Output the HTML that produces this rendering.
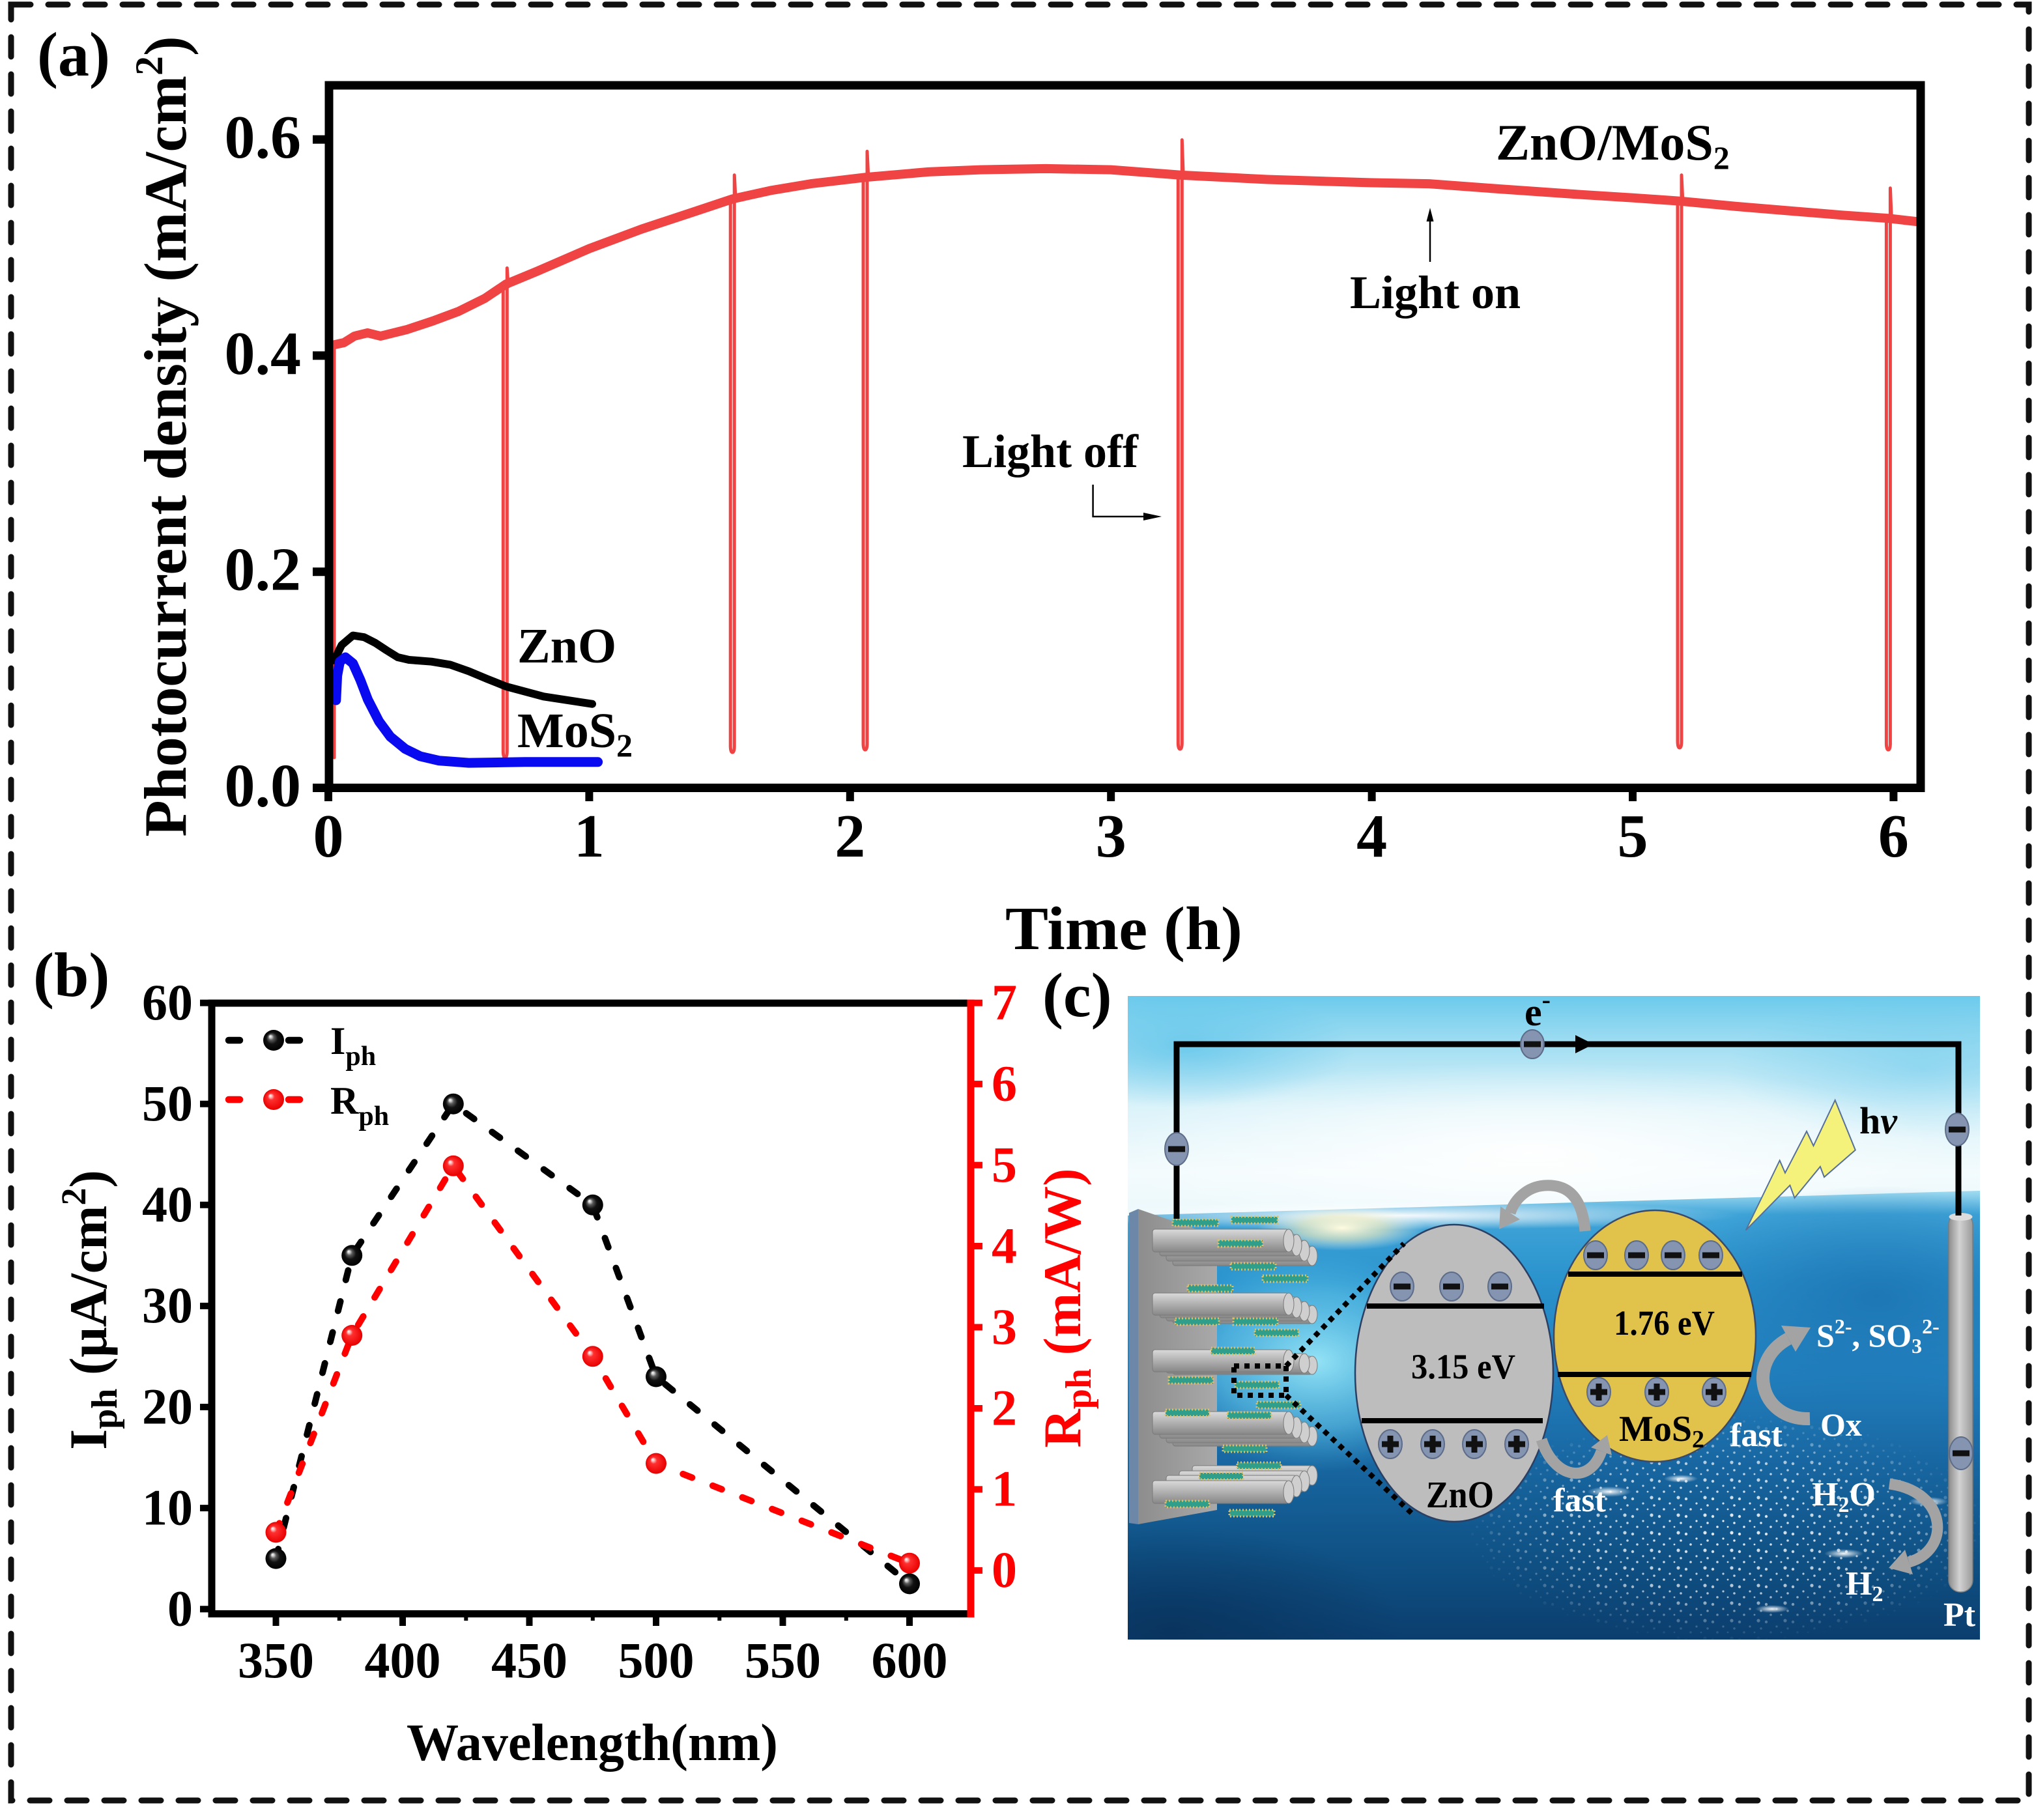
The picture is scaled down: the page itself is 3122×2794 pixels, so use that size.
<!DOCTYPE html>
<html><head><meta charset="utf-8"><style>
html,body{margin:0;padding:0;background:#fff;}
body{width:3122px;height:2794px;overflow:hidden;}
svg{display:block;}
</style></head><body>
<svg width="3122" height="2794" viewBox="0 0 3122 2794" xmlns="http://www.w3.org/2000/svg" font-family="'Liberation Serif','Times New Roman',serif" font-weight="bold">
<defs>
  <radialGradient id="mkB" cx="0.5" cy="0.5" r="0.5" fx="0.33" fy="0.3">
    <stop offset="0" stop-color="#ffffff"/><stop offset="0.12" stop-color="#cfcfcf"/><stop offset="0.28" stop-color="#5a5a5a"/><stop offset="0.55" stop-color="#111"/><stop offset="1" stop-color="#000"/>
  </radialGradient>
  <radialGradient id="mkR" cx="0.5" cy="0.5" r="0.5" fx="0.33" fy="0.3">
    <stop offset="0" stop-color="#ffffff"/><stop offset="0.14" stop-color="#ffb8b8"/><stop offset="0.32" stop-color="#ff3030"/><stop offset="1" stop-color="#e80000"/>
  </radialGradient>
  <linearGradient id="skyG" x1="0" y1="1529" x2="0" y2="1875" gradientUnits="userSpaceOnUse">
    <stop offset="0" stop-color="#6ccaec"/><stop offset="0.22" stop-color="#a2def2"/><stop offset="0.5" stop-color="#dcf3fa"/><stop offset="0.78" stop-color="#f3fbfd"/><stop offset="1" stop-color="#eaf8fc"/>
  </linearGradient>
  <linearGradient id="waterG" x1="0" y1="1830" x2="0" y2="2517" gradientUnits="userSpaceOnUse">
    <stop offset="0" stop-color="#9cd9f0"/><stop offset="0.05" stop-color="#3fa4d8"/><stop offset="0.2" stop-color="#2a92cc"/><stop offset="0.4" stop-color="#2280be"/><stop offset="0.6" stop-color="#1867a2"/><stop offset="0.8" stop-color="#105387"/><stop offset="1" stop-color="#0b3e6e"/>
  </linearGradient>
  <radialGradient id="glowC" cx="0.5" cy="0.5" r="0.5">
    <stop offset="0" stop-color="#9ae8f8" stop-opacity="0.95"/><stop offset="0.6" stop-color="#6fd3f2" stop-opacity="0.5"/><stop offset="1" stop-color="#4fc0ea" stop-opacity="0"/>
  </radialGradient>
  <radialGradient id="glowW" cx="0.5" cy="0.5" r="0.5">
    <stop offset="0" stop-color="#ffffff" stop-opacity="0.95"/><stop offset="1" stop-color="#ffffff" stop-opacity="0"/>
  </radialGradient>
  <radialGradient id="glowCy" cx="0.5" cy="0.5" r="0.5">
    <stop offset="0" stop-color="#4cbde8" stop-opacity="0.6"/><stop offset="1" stop-color="#4cbde8" stop-opacity="0"/>
  </radialGradient>
  <radialGradient id="glowY" cx="0.5" cy="0.5" r="0.5">
    <stop offset="0" stop-color="#fffbe0" stop-opacity="1"/><stop offset="0.5" stop-color="#fff3c0" stop-opacity="0.6"/><stop offset="1" stop-color="#ffffff" stop-opacity="0"/>
  </radialGradient>
  <radialGradient id="darkC" cx="0.5" cy="0.5" r="0.5">
    <stop offset="0" stop-color="#082f58" stop-opacity="0.7"/><stop offset="1" stop-color="#082f58" stop-opacity="0"/>
  </radialGradient>
  <radialGradient id="blueC" cx="0.5" cy="0.5" r="0.5">
    <stop offset="0" stop-color="#1a6fae" stop-opacity="0.75"/><stop offset="1" stop-color="#1a6fae" stop-opacity="0"/>
  </radialGradient>
  <radialGradient id="spkMaskG" cx="0.5" cy="0.5" r="0.5">
    <stop offset="0" stop-color="#fff"/><stop offset="0.6" stop-color="#bbb"/><stop offset="1" stop-color="#000"/>
  </radialGradient>
  <mask id="spkMask"><rect x="2250" y="2170" width="800" height="350" fill="url(#spkMaskG)"/></mask>
  <pattern id="spk" width="41" height="27" patternUnits="userSpaceOnUse">
    <circle cx="5" cy="6" r="2.2" fill="#fff"/><circle cx="21" cy="13" r="1.6" fill="#fff"/><circle cx="34" cy="4" r="2.6" fill="#fff"/><circle cx="12" cy="22" r="1.8" fill="#fff"/><circle cx="28" cy="22" r="1.4" fill="#fff"/><circle cx="38" cy="16" r="1.8" fill="#fff"/>
  </pattern>
  <linearGradient id="rodG" x1="0" y1="0" x2="0" y2="1">
    <stop offset="0" stop-color="#dadada"/><stop offset="0.45" stop-color="#b4b4b4"/><stop offset="1" stop-color="#878787"/>
  </linearGradient>
  <linearGradient id="subG" x1="0" y1="0" x2="1" y2="0">
    <stop offset="0" stop-color="#8d8d8d"/><stop offset="1" stop-color="#a9a9a9"/>
  </linearGradient>
  <linearGradient id="ptG" x1="0" y1="0" x2="1" y2="0">
    <stop offset="0" stop-color="#8c8c8c"/><stop offset="0.45" stop-color="#d2d2d2"/><stop offset="1" stop-color="#9a9a9a"/>
  </linearGradient>
  <g id="el"><ellipse rx="18" ry="22" fill="#8595b1" stroke="#5c6c89" stroke-width="2"/><rect x="-13" y="-4.5" width="26" height="9" fill="#111"/></g>
  <g id="elw"><ellipse rx="18" ry="25" fill="#8595b1" stroke="#5c6c89" stroke-width="2"/><rect x="-13" y="-4.5" width="26" height="9" fill="#111"/></g>
  <g id="ho"><ellipse rx="18" ry="22" fill="#8595b1" stroke="#5c6c89" stroke-width="2"/><rect x="-13" y="-4.5" width="26" height="9" fill="#111"/><rect x="-4.5" y="-13" width="9" height="26" fill="#111"/></g>
  <clipPath id="cclip"><rect x="1731" y="1529" width="1308" height="988"/></clipPath>
</defs>

<!-- outer dashed border -->
<rect x="17" y="7" width="3097" height="2757" fill="none" stroke="#111" stroke-width="9" stroke-dasharray="30 27" stroke-linecap="round"/>

<!-- ===================== PANEL (a) ===================== -->
<text x="57" y="116" font-size="96">(a)</text>
<text transform="translate(285,670) rotate(-90)" text-anchor="middle" font-size="92">Photocurrent density (mA/cm<tspan font-size="60" dy="-36">2</tspan><tspan dy="36">)</tspan></text>

<g fill="none" stroke-linejoin="round" stroke-linecap="round">
  <polyline stroke="#f04343" stroke-width="14" points="512.8,529.3 528,526 544,516 564.1,511 584.1,516 624.1,506.1 664.2,492.8 704.2,477.9 744.2,458 776.3,436.4 824.3,416.5 904.4,381.7 984.5,351.8 1064.6,325.3 1124.6,305.3 1184.7,292.1 1244.7,282.1 1328.8,272.2 1424.9,263.9 1505,260.6 1605.1,258.9 1705.2,260.6 1813.3,268.9 1945.4,275.5 2105.6,280.5 2193.7,282.1 2305.8,290.4 2425.9,298.7 2506,303.7 2578.1,308.7 2666.2,317 2746.2,323.6 2826.3,330.2 2898.4,335.2 2942.4,340.2"/>
  <g stroke="#f04343" stroke-width="5">
    <path d="M513,1163 L513,530"/>
    <path d="M772.3,437 L772.3,1153 Q772.3,1163 775.3,1163 Q778.3,1163 778.3,1153 L778.3,411.5 L780.3,440"/>
    <path d="M1121.2,305 L1121.2,1145 Q1121.2,1155 1124.2,1155 Q1127.2,1155 1127.2,1145 L1127.2,268.8 L1129.2,308"/>
    <path d="M1325,272 L1325,1141 Q1325,1151 1328,1151 Q1331,1151 1331,1141 L1331,232.4 L1333,275"/>
    <path d="M1808.3,269 L1808.3,1140 Q1808.3,1150 1811.3,1150 Q1814.3,1150 1814.3,1140 L1814.3,214.8 L1816.3,272"/>
    <path d="M2575,309 L2575,1138 Q2575,1148 2578,1148 Q2581,1148 2581,1138 L2581,268.8 L2583,312"/>
    <path d="M2895.4,335 L2895.4,1141 Q2895.4,1151 2898.4,1151 Q2901.4,1151 2901.4,1141 L2901.4,288.8 L2903.4,338"/>
  </g>
  <polyline stroke="#000" stroke-width="12" points="513,1013.7 524.4,990.3 541.7,975.6 558.9,978.2 576.1,987 593.3,998.3 610.5,1009 627.8,1013 662.2,1015.7 690.9,1020.4 719.6,1030.5 748.3,1042.5 777,1053.9 834.4,1069.3 909,1080.7"/>
  <polyline stroke="#0a0af0" stroke-width="15" points="515.8,1075 517.6,1037.2 521.6,1015.7 530.2,1009 541.7,1018.4 553.1,1043.9 564.6,1074 581.8,1107.5 599.1,1130.9 622,1149.7 645,1161 673.7,1167.7 719.6,1171.1 805.7,1169.8 917.6,1169.8"/>
</g>

<rect x="505" y="131" width="2443" height="1078.5" fill="none" stroke="#000" stroke-width="13"/>
<g stroke="#000" stroke-width="13">
  <line x1="480" y1="1209.5" x2="505" y2="1209.5"/>
  <line x1="480" y1="877.7" x2="505" y2="877.7"/>
  <line x1="480" y1="545.9" x2="505" y2="545.9"/>
  <line x1="480" y1="214.1" x2="505" y2="214.1"/>
</g>
<g stroke="#000" stroke-width="12">
  <line x1="504" y1="1209" x2="504" y2="1230"/>
  <line x1="904.4" y1="1209" x2="904.4" y2="1230"/>
  <line x1="1304.8" y1="1209" x2="1304.8" y2="1230"/>
  <line x1="1705.2" y1="1209" x2="1705.2" y2="1230"/>
  <line x1="2105.6" y1="1209" x2="2105.6" y2="1230"/>
  <line x1="2506" y1="1209" x2="2506" y2="1230"/>
  <line x1="2906.4" y1="1209" x2="2906.4" y2="1230"/>
</g>
<g font-size="94" text-anchor="end">
  <text x="462" y="1237.5">0.0</text>
  <text x="462" y="905.7">0.2</text>
  <text x="462" y="573.9">0.4</text>
  <text x="462" y="242.1">0.6</text>
</g>
<g font-size="94" text-anchor="middle">
  <text x="504" y="1315">0</text>
  <text x="904.4" y="1315">1</text>
  <text x="1304.8" y="1315">2</text>
  <text x="1705.2" y="1315">3</text>
  <text x="2105.6" y="1315">4</text>
  <text x="2506" y="1315">5</text>
  <text x="2906.4" y="1315">6</text>
</g>
<text x="1725" y="1457" font-size="94" text-anchor="middle" textLength="364" lengthAdjust="spacingAndGlyphs">Time (h)</text>

<text x="794" y="1017" font-size="76">ZnO</text>
<text x="794" y="1147" font-size="76">MoS<tspan font-size="50" dy="14">2</tspan></text>
<text x="2296" y="245" font-size="78">ZnO/MoS<tspan font-size="50" dy="14">2</tspan></text>
<text x="2072" y="473" font-size="72">Light on</text>
<text x="1477" y="717" font-size="72">Light off</text>
<line x1="2195" y1="402" x2="2195" y2="336" stroke="#000" stroke-width="2.5"/>
<polygon points="2195,319 2189.5,340 2200.5,340" fill="#000"/>
<polyline points="1677.6,744 1677.6,793 1758,793" fill="none" stroke="#000" stroke-width="2.5"/>
<polygon points="1783,793 1755,787 1755,799" fill="#000"/>

<!-- ===================== PANEL (b) ===================== -->
<text x="51" y="1529" font-size="96">(b)</text>

<g fill="none" stroke-width="10" stroke-linecap="round" stroke-dasharray="15 34">
  <path stroke="#000" d="M423.5,2392.6 L540.2,1927.3 L695.8,1694.7 L909.8,1849.8 L1007,2113.5 L1396,2431.4"/>
  <path stroke="#ff0000" d="M423.5,2352.4 L540.2,2050 L695.8,1789.8 L909.8,2082.3 L1007,2246.6 L1396,2399.7"/>
</g>
<g>
  <circle cx="423.5" cy="2392.6" r="16" fill="url(#mkB)"/>
  <circle cx="540.2" cy="1927.3" r="16" fill="url(#mkB)"/>
  <circle cx="695.8" cy="1694.7" r="16" fill="url(#mkB)"/>
  <circle cx="909.8" cy="1849.8" r="16" fill="url(#mkB)"/>
  <circle cx="1007" cy="2113.5" r="16" fill="url(#mkB)"/>
  <circle cx="1396" cy="2431.4" r="16" fill="url(#mkB)"/>
  <circle cx="423.5" cy="2352.4" r="16" fill="url(#mkR)"/>
  <circle cx="540.2" cy="2050" r="16" fill="url(#mkR)"/>
  <circle cx="695.8" cy="1789.8" r="16" fill="url(#mkR)"/>
  <circle cx="909.8" cy="2082.3" r="16" fill="url(#mkR)"/>
  <circle cx="1007" cy="2246.6" r="16" fill="url(#mkR)"/>
  <circle cx="1396" cy="2399.7" r="16" fill="url(#mkR)"/>
</g>

<g stroke-width="10.5" stroke-linecap="round">
  <line x1="351" y1="1597" x2="368" y2="1597" stroke="#000"/>
  <line x1="443" y1="1597" x2="460" y2="1597" stroke="#000"/>
  <line x1="351" y1="1688" x2="368" y2="1688" stroke="#ff0000"/>
  <line x1="443" y1="1688" x2="460" y2="1688" stroke="#ff0000"/>
</g>
<circle cx="420" cy="1597" r="16" fill="url(#mkB)"/>
<circle cx="420" cy="1688" r="16" fill="url(#mkR)"/>
<text x="507" y="1618" font-size="60">I<tspan font-size="42" dy="17">ph</tspan></text>
<text x="507" y="1710" font-size="60">R<tspan font-size="42" dy="17">ph</tspan></text>

<g stroke="#000" stroke-width="11" fill="none">
  <line x1="319.5" y1="1540" x2="1490" y2="1540"/>
  <line x1="325" y1="1534.5" x2="325" y2="2483"/>
  <line x1="319.5" y1="2477.5" x2="1490" y2="2477.5"/>
</g>
<line x1="1490" y1="1534.5" x2="1490" y2="2483" stroke="#ff0000" stroke-width="11"/>
<g stroke="#000" stroke-width="10">
  <line x1="307" y1="2470.2" x2="325" y2="2470.2"/>
  <line x1="307" y1="2315.1" x2="325" y2="2315.1"/>
  <line x1="307" y1="2160" x2="325" y2="2160"/>
  <line x1="307" y1="2004.9" x2="325" y2="2004.9"/>
  <line x1="307" y1="1849.8" x2="325" y2="1849.8"/>
  <line x1="307" y1="1694.7" x2="325" y2="1694.7"/>
  <line x1="307" y1="1539.6" x2="325" y2="1539.6"/>
  <line x1="423.5" y1="2477" x2="423.5" y2="2496"/>
  <line x1="618" y1="2477" x2="618" y2="2496"/>
  <line x1="812.5" y1="2477" x2="812.5" y2="2496"/>
  <line x1="1007" y1="2477" x2="1007" y2="2496"/>
  <line x1="1201.5" y1="2477" x2="1201.5" y2="2496"/>
  <line x1="1396" y1="2477" x2="1396" y2="2496"/>
</g>
<g stroke="#000" stroke-width="6">
  <line x1="520.8" y1="2477" x2="520.8" y2="2488"/>
  <line x1="715.3" y1="2477" x2="715.3" y2="2488"/>
  <line x1="909.8" y1="2477" x2="909.8" y2="2488"/>
  <line x1="1104.3" y1="2477" x2="1104.3" y2="2488"/>
  <line x1="1298.8" y1="2477" x2="1298.8" y2="2488"/>
</g>
<g stroke="#ff0000" stroke-width="10">
  <line x1="1490" y1="2410.9" x2="1508" y2="2410.9"/>
  <line x1="1490" y1="2286.4" x2="1508" y2="2286.4"/>
  <line x1="1490" y1="2162" x2="1508" y2="2162"/>
  <line x1="1490" y1="2037.5" x2="1508" y2="2037.5"/>
  <line x1="1490" y1="1913" x2="1508" y2="1913"/>
  <line x1="1490" y1="1788.6" x2="1508" y2="1788.6"/>
  <line x1="1490" y1="1664.1" x2="1508" y2="1664.1"/>
  <line x1="1490" y1="1539.6" x2="1508" y2="1539.6"/>
</g>
<g font-size="78" text-anchor="end">
  <text x="296" y="2495.5">0</text>
  <text x="296" y="2340.4">10</text>
  <text x="296" y="2185.3">20</text>
  <text x="296" y="2030.2">30</text>
  <text x="296" y="1875.1">40</text>
  <text x="296" y="1720">50</text>
  <text x="296" y="1564.9">60</text>
</g>
<g font-size="78" fill="#ff0000">
  <text x="1522" y="2436.2">0</text>
  <text x="1522" y="2311.7">1</text>
  <text x="1522" y="2187.3">2</text>
  <text x="1522" y="2062.8">3</text>
  <text x="1522" y="1938.3">4</text>
  <text x="1522" y="1813.9">5</text>
  <text x="1522" y="1689.4">6</text>
  <text x="1522" y="1564.9">7</text>
</g>
<g font-size="78" text-anchor="middle">
  <text x="423.5" y="2575">350</text>
  <text x="618" y="2575">400</text>
  <text x="812.5" y="2575">450</text>
  <text x="1007" y="2575">500</text>
  <text x="1201.5" y="2575">550</text>
  <text x="1396" y="2575">600</text>
</g>
<text x="909" y="2702" font-size="80" text-anchor="middle" textLength="570" lengthAdjust="spacingAndGlyphs">Wavelength(nm)</text>
<text transform="translate(163,2011) rotate(-90)" text-anchor="middle" font-size="82">I<tspan font-size="56" dy="16">ph</tspan><tspan dy="-16"> (μA/cm</tspan><tspan font-size="54" dy="-32">2</tspan><tspan dy="32">)</tspan></text>
<text transform="translate(1658,2008) rotate(-90)" text-anchor="middle" font-size="82" fill="#ff0000">R<tspan font-size="56" dy="16">ph</tspan><tspan dy="-16"> (mA/W)</tspan></text>

<!-- ===================== PANEL (c) ===================== -->
<text x="1600" y="1560" font-size="96">(c)</text>
<g clip-path="url(#cclip)">
  <rect x="1731" y="1529" width="1308" height="988" fill="url(#skyG)"/>
  <ellipse cx="1820" cy="1610" rx="260" ry="90" fill="url(#glowCy)"/>
  <ellipse cx="2950" cy="1640" rx="300" ry="110" fill="url(#glowCy)" opacity="0.6"/>
  <ellipse cx="2350" cy="1770" rx="650" ry="140" fill="url(#glowW)"/>
  <polygon points="1731,1866 3039,1828 3039,2517 1731,2517" fill="url(#waterG)"/>
  <ellipse cx="2880" cy="1990" rx="330" ry="170" fill="url(#blueC)"/>
  <ellipse cx="2150" cy="1866" rx="520" ry="22" fill="url(#glowW)"/>
  <ellipse cx="2060" cy="1885" rx="130" ry="35" fill="url(#glowY)"/>
  <ellipse cx="2020" cy="2090" rx="250" ry="170" fill="url(#glowC)"/>
  <ellipse cx="1800" cy="2500" rx="350" ry="160" fill="url(#darkC)"/>
  <rect x="2250" y="2170" width="800" height="350" fill="url(#spk)" mask="url(#spkMask)" opacity="0.9"/>
  <ellipse cx="2470" cy="2290" rx="34" ry="8" fill="url(#glowW)"/>
  <ellipse cx="2830" cy="2385" rx="30" ry="7" fill="url(#glowW)"/>
  <ellipse cx="2960" cy="2305" rx="30" ry="7" fill="url(#glowW)"/>
  <ellipse cx="2580" cy="2270" rx="26" ry="6" fill="url(#glowW)"/>
  <ellipse cx="2720" cy="2470" rx="26" ry="6" fill="url(#glowW)"/>
</g>

<polygon points="1733,1862 1747,1856 1747,2340 1733,2338" fill="#6d87a8"/>
<polygon points="1747,1856 1868,1898 1868,2318 1747,2340" fill="url(#subG)"/>
<g stroke="#7a7a7a" stroke-width="1">
  <rect x="1800" y="1913" width="214" height="30" rx="4" fill="url(#rodG)"/><ellipse cx="2014" cy="1928" rx="8" ry="15" fill="#cfcfcf"/>
  <rect x="1790" y="1904" width="212" height="32" rx="4" fill="url(#rodG)"/><ellipse cx="2002" cy="1920" rx="8" ry="16" fill="#cfcfcf"/>
  <rect x="1780" y="1895" width="210" height="33" rx="4" fill="url(#rodG)"/><ellipse cx="1990" cy="1911.5" rx="8" ry="16.5" fill="#cfcfcf"/>
  <rect x="1769" y="1887" width="209" height="35" rx="4" fill="url(#rodG)"/><ellipse cx="1978" cy="1904.5" rx="8" ry="17.5" fill="#cfcfcf"/>
  <rect x="1800" y="2004" width="214" height="28" rx="4" fill="url(#rodG)"/><ellipse cx="2014" cy="2018" rx="8" ry="14" fill="#cfcfcf"/>
  <rect x="1790" y="1998" width="212" height="30" rx="4" fill="url(#rodG)"/><ellipse cx="2002" cy="2013" rx="8" ry="15" fill="#cfcfcf"/>
  <rect x="1780" y="1991" width="210" height="32" rx="4" fill="url(#rodG)"/><ellipse cx="1990" cy="2007" rx="8" ry="16" fill="#cfcfcf"/>
  <rect x="1769" y="1985" width="209" height="34" rx="4" fill="url(#rodG)"/><ellipse cx="1978" cy="2002" rx="8" ry="17" fill="#cfcfcf"/>
  <rect x="1800" y="2082" width="214" height="28" rx="4" fill="url(#rodG)"/><ellipse cx="2014" cy="2096" rx="8" ry="14" fill="#cfcfcf"/>
  <rect x="1790" y="2078" width="212" height="30" rx="4" fill="url(#rodG)"/><ellipse cx="2002" cy="2093" rx="8" ry="15" fill="#cfcfcf"/>
  <rect x="1769" y="2072" width="209" height="34" rx="4" fill="url(#rodG)"/><ellipse cx="1978" cy="2089" rx="8" ry="17" fill="#cfcfcf"/>
  <rect x="1800" y="2190" width="214" height="30" rx="4" fill="url(#rodG)"/><ellipse cx="2014" cy="2205" rx="8" ry="15" fill="#cfcfcf"/>
  <rect x="1790" y="2183" width="212" height="32" rx="4" fill="url(#rodG)"/><ellipse cx="2002" cy="2199" rx="8" ry="16" fill="#cfcfcf"/>
  <rect x="1780" y="2175" width="210" height="33" rx="4" fill="url(#rodG)"/><ellipse cx="1990" cy="2191.5" rx="8" ry="16.5" fill="#cfcfcf"/>
  <rect x="1769" y="2167" width="209" height="35" rx="4" fill="url(#rodG)"/><ellipse cx="1978" cy="2184.5" rx="8" ry="17.5" fill="#cfcfcf"/>
  <rect x="1830" y="2250" width="184" height="30" rx="4" fill="url(#rodG)"/><ellipse cx="2014" cy="2265" rx="8" ry="15" fill="#cfcfcf"/>
  <rect x="1810" y="2258" width="192" height="32" rx="4" fill="url(#rodG)"/><ellipse cx="2002" cy="2274" rx="8" ry="16" fill="#cfcfcf"/>
  <rect x="1790" y="2265" width="200" height="33" rx="4" fill="url(#rodG)"/><ellipse cx="1990" cy="2281.5" rx="8" ry="16.5" fill="#cfcfcf"/>
  <rect x="1769" y="2273" width="209" height="35" rx="4" fill="url(#rodG)"/><ellipse cx="1978" cy="2290.5" rx="8" ry="17.5" fill="#cfcfcf"/>
</g>
<g fill="#2f9e8a" stroke="#e0c060" stroke-width="3" stroke-dasharray="2 3">
  <rect x="1800" y="1872" width="70" height="10"/>
  <rect x="1890" y="1868" width="71" height="10"/>
  <rect x="1870" y="1904" width="68" height="10"/>
  <rect x="1889" y="1939" width="69" height="10"/>
  <rect x="1938" y="1958" width="69" height="10"/>
  <rect x="1823" y="1973" width="69" height="10"/>
  <rect x="1804" y="2024" width="67" height="10"/>
  <rect x="1893" y="2024" width="68" height="10"/>
  <rect x="1926" y="2041" width="67" height="10"/>
  <rect x="1859" y="2069" width="67" height="10"/>
  <rect x="1794" y="2114" width="68" height="10"/>
  <rect x="1896" y="2121" width="67" height="10"/>
  <rect x="1929" y="2152" width="67" height="10"/>
  <rect x="1789" y="2164" width="67" height="10"/>
  <rect x="1884" y="2168" width="67" height="10"/>
  <rect x="1877" y="2219" width="67" height="10"/>
  <rect x="1899" y="2245" width="67" height="10"/>
  <rect x="1841" y="2261" width="67" height="10"/>
  <rect x="1789" y="2304" width="67" height="10"/>
  <rect x="1887" y="2318" width="69" height="10"/>
</g>

<rect x="2991" y="1862" width="37" height="582" rx="18" fill="url(#ptG)" stroke="#7d7d7d" stroke-width="1.5"/>
<ellipse cx="3009.5" cy="1868" rx="18" ry="6" fill="#dcdcdc"/>

<path d="M1806,1871 V1603 H3006 V1866" fill="none" stroke="#000" stroke-width="9"/>
<polygon points="2418,1589 2446,1603 2418,1617" fill="#000"/>
<use href="#elw" x="1806" y="1764"/>
<use href="#el" x="2352" y="1603"/>
<use href="#elw" x="3004" y="1734"/>
<use href="#elw" x="3010" y="2231"/>
<text x="2340" y="1574" font-size="60">e<tspan font-size="40" dy="-26">-</tspan></text>

<polygon points="2679.8,1888.6 2731.7,1781.5 2740,1800.6 2773,1736.8 2783.5,1759 2816.7,1689 2847.8,1765.5 2800,1807 2793.9,1791 2754.5,1839 2747.4,1819.7" fill="#f5f27c" stroke="#56709a" stroke-width="2"/>
<text x="2854" y="1740" font-size="58">h<tspan font-style="italic">ν</tspan></text>

<ellipse cx="2232" cy="2108" rx="152" ry="228" fill="#bdbdbd" stroke="#2b3f63" stroke-width="2.5"/>
<ellipse cx="2540" cy="2051" rx="155" ry="193" fill="#e1c24b" stroke="#3a4a6a" stroke-width="2.5"/>
<g stroke="#000" stroke-width="8">
  <line x1="2098" y1="2005" x2="2370" y2="2005"/>
  <line x1="2090" y1="2181" x2="2368" y2="2181"/>
  <line x1="2407" y1="1956" x2="2674" y2="1956"/>
  <line x1="2391" y1="2110" x2="2688" y2="2110"/>
</g>
<use href="#el" x="2152" y="1975"/><use href="#el" x="2228" y="1975"/><use href="#el" x="2302" y="1975"/>
<use href="#ho" x="2134" y="2217"/><use href="#ho" x="2199" y="2217"/><use href="#ho" x="2263" y="2217"/><use href="#ho" x="2328" y="2217"/>
<use href="#el" x="2449" y="1927"/><use href="#el" x="2512" y="1927"/><use href="#el" x="2568" y="1927"/><use href="#el" x="2626" y="1927"/>
<use href="#ho" x="2454" y="2137"/><use href="#ho" x="2543" y="2137"/><use href="#ho" x="2631" y="2137"/>
<text x="2166" y="2116" font-size="54" textLength="160" lengthAdjust="spacingAndGlyphs">3.15 eV</text>
<text x="2189" y="2314" font-size="58" textLength="104" lengthAdjust="spacingAndGlyphs">ZnO</text>
<text x="2477" y="2049" font-size="54" textLength="155" lengthAdjust="spacingAndGlyphs">1.76 eV</text>
<text x="2485" y="2212" font-size="56">MoS<tspan font-size="38" dy="10">2</tspan></text>

<g fill="none" stroke="#a3a3a3" stroke-width="17">
  <path d="M2433,1890 C2428,1830 2400,1818 2370,1820 C2345,1822 2325,1840 2318,1862"/>
  <path d="M2366,2210 C2385,2270 2440,2280 2458,2228"/>
  <path d="M2778,2178 C2700,2180 2680,2090 2745,2055" stroke-width="20"/>
  <path d="M2900,2278 C2990,2290 2995,2380 2930,2398"/>
</g>
<g fill="#a3a3a3">
  <polygon points="2301,1887 2333,1872 2303,1852"/>
  <polygon points="2467,2203 2474,2234 2442,2222"/>
  <polygon points="2779,2038 2756,2075 2734,2035"/>
  <polygon points="2899,2407 2936,2417 2924,2379"/>
</g>

<g fill="none" stroke="#000" stroke-width="8" stroke-dasharray="8 8">
  <rect x="1894" y="2097" width="80" height="45"/>
  <line x1="1974" y1="2097" x2="2155" y2="1909"/>
  <line x1="1974" y1="2142" x2="2171" y2="2327"/>
</g>

<g fill="#ffffff">
  <text x="2384" y="2320" font-size="52">fast</text>
  <text x="2655" y="2220" font-size="52">fast</text>
  <text x="2794" y="2204" font-size="50">Ox</text>
  <text x="2788" y="2067" font-size="50">S<tspan font-size="32" dy="-20">2-</tspan><tspan dy="20">, SO</tspan><tspan font-size="32" dy="10">3</tspan><tspan font-size="32" dy="-30">2-</tspan></text>
  <text x="2781" y="2311" font-size="52">H<tspan font-size="34" dy="10">2</tspan><tspan dy="-10">O</tspan></text>
  <text x="2833" y="2448" font-size="52">H<tspan font-size="34" dy="10">2</tspan></text>
  <text x="2983" y="2496" font-size="52">Pt</text>
</g>
</svg>
</body></html>
